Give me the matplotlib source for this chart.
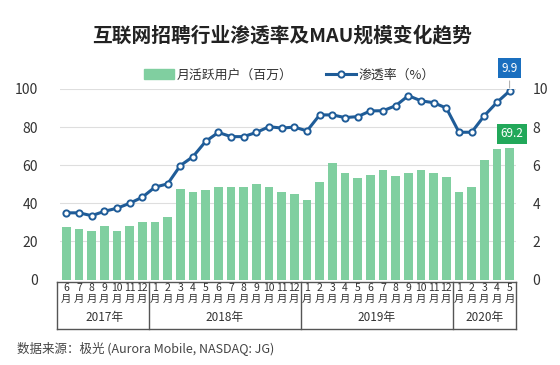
import matplotlib
matplotlib.use("Agg")
import matplotlib.pyplot as plt
from matplotlib.lines import Line2D
from matplotlib.patches import Patch
from matplotlib.transforms import blended_transform_factory

plt.rcParams['font.family'] = ['Noto Sans CJK SC', 'DejaVu Sans']

# ------------------------------
# Data
# ------------------------------
months = [6, 7, 8, 9, 10, 11, 12] + list(range(1, 13)) + list(range(1, 13)) + [1, 2, 3, 4, 5]
years = ["2017年", "2018年", "2019年", "2020年"]
year_counts = [7, 12, 12, 5]

mau = [27.4, 26.5, 25.3, 27.9, 25.3, 28.1, 30.3,
       30.3, 32.8, 47.5, 46.1, 47.0, 48.4, 48.4, 48.7, 50.3, 48.6, 45.9, 44.9,
       41.7, 51.0, 61.0, 56.1, 53.1, 54.9, 57.5, 54.3, 56.1, 57.5, 56.1, 53.6,
       45.8, 48.7, 62.7, 68.3, 69.2]

rate = [3.5, 3.5, 3.35, 3.58, 3.74, 4.0, 4.32,
        4.85, 5.02, 5.98, 6.45, 7.25, 7.72, 7.5, 7.5, 7.72, 8.02, 7.95, 8.0,
        7.8, 8.64, 8.64, 8.5, 8.55, 8.85, 8.86, 9.12, 9.65, 9.38, 9.28, 9.0,
        7.73, 7.73, 8.6, 9.3, 9.9]

bar_color = "#80cfa0"
line_color = "#1f5c98"

# ------------------------------
# Figure
# ------------------------------
fig = plt.figure(figsize=(5.6, 3.65), dpi=100)
ax = fig.add_axes([60 / 560, 1 - 279.5 / 365, 456 / 560, 190.5 / 365])
x = list(range(len(mau)))

ax.bar(x, mau, width=0.7, color=bar_color, zorder=2)
ax.set_xlim(-0.5, len(mau) - 0.5)
ax.set_ylim(0, 100)
ax.set_yticks(range(0, 101, 20))
ax.grid(axis="y", color="#dedede", lw=0.8, zorder=0)
ax.set_xticks([])
ax.tick_params(axis="y", length=0, pad=16, labelsize=10, labelcolor="#333333")
for s in ax.spines.values():
    s.set_visible(False)

ax2 = ax.twinx()
ax2.plot(x, rate, color=line_color, lw=2.2, marker="o", ms=4.5,
         mfc="white", mec=line_color, mew=1.4, zorder=3)
ax2.set_ylim(0, 10)
ax2.set_yticks(range(0, 11, 2))
ax2.tick_params(axis="y", length=0, pad=12, labelsize=10, labelcolor="#333333")
for s in ax2.spines.values():
    s.set_visible(False)

# value boxes on the last month
last = len(mau) - 1
ax2.annotate(f"{rate[-1]}", xy=(last, rate[-1]), xytext=(last, 11.1),
             ha="center", va="center", color="white", fontsize=8.5,
             bbox=dict(boxstyle="square,pad=0.3", fc="#1a6fbf", ec="none"),
             arrowprops=dict(arrowstyle="-", color="#999999", lw=0.6),
             annotation_clip=False)
ax.text(last + 0.2, 76.6, f"{mau[-1]}", ha="center", va="center", color="white",
        fontsize=8.5, bbox=dict(boxstyle="square,pad=0.3", fc="#22a85a", ec="none"),
        clip_on=False, zorder=5)

# ------------------------------
# Two-level category axis (month / year table)
# ------------------------------
tr = blended_transform_factory(ax.transData, fig.transFigure)
y_top, y_bot = 1 - 282 / 365, 1 - 329 / 365
left_edge, right_edge = -0.7, len(mau) - 0.5
tcol = "#555555"
ax.add_line(Line2D([left_edge, right_edge], [y_top, y_top], transform=tr, color=tcol, lw=1, clip_on=False))
ax.add_line(Line2D([left_edge, right_edge], [y_bot, y_bot], transform=tr, color=tcol, lw=1, clip_on=False))

for i, m in enumerate(months):
    ax.text(i, 1 - 288 / 365, str(m), transform=tr, ha="center", va="center",
            fontsize=7.5, color="#333333")
    ax.text(i, 1 - 298.5 / 365, "月", transform=tr, ha="center", va="center",
            fontsize=7.5, color="#333333")

start = -0.5
bounds = [left_edge]
for yr, n in zip(years, year_counts):
    end = start + n
    ax.text((start + end) / 2, 1 - 318 / 365, yr, transform=tr, ha="center",
            va="center", fontsize=8.5, color="#333333")
    bounds.append(end)
    start = end
for b in bounds:
    ax.add_line(Line2D([b, b], [y_bot, y_top], transform=tr, color=tcol, lw=1, clip_on=False))

# ------------------------------
# Title, legend, source
# ------------------------------
fig.text(282.5 / 560, 1 - 35 / 365, "互联网招聘行业渗透率及MAU规模变化趋势", ha="center", va="center",
         fontsize=14.2, fontweight="bold", color="#222222")

handles = [Patch(color=bar_color),
           Line2D([], [], color=line_color, lw=2.2, marker="o", ms=4.5,
                  mfc="white", mec=line_color, mew=1.4)]
fig.legend(handles, ["月活跃用户（百万）", "渗透率（%）"], loc="center",
           bbox_to_anchor=(0.517, 1 - 75 / 365), ncol=2, frameon=False,
           fontsize=9.3, handlelength=2.3, handleheight=0.8, columnspacing=2.6,
           handletextpad=0.2, labelcolor="#333333")

fig.text(17 / 560, 1 - 348 / 365, "数据来源：极光 (Aurora Mobile, NASDAQ: JG)",
         ha="left", va="center", fontsize=9, color="#444444")

fig.savefig("out.png", dpi=100)
